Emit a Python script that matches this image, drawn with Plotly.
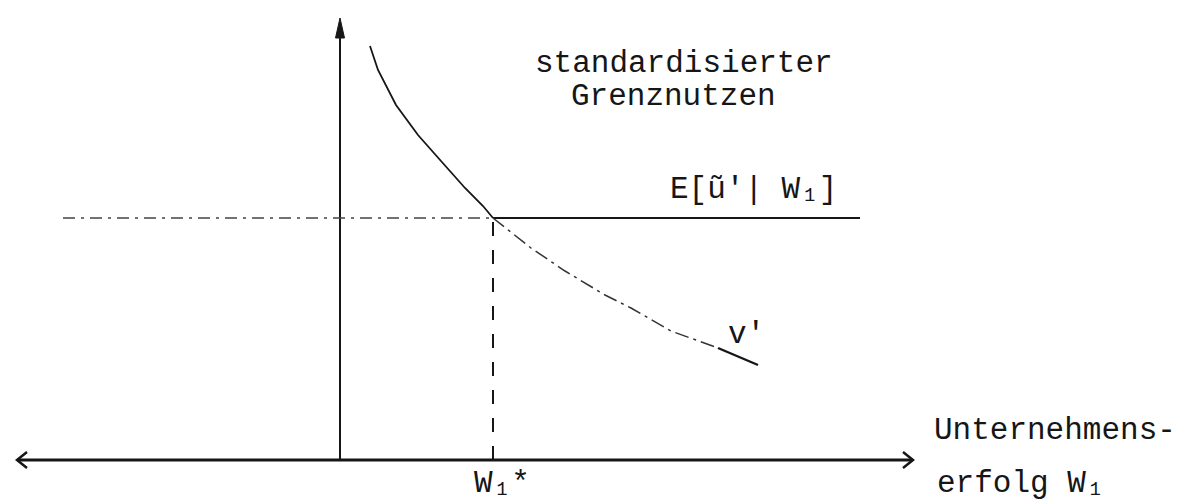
import plotly.graph_objects as go

# abstract diagram units: origin where the two axes cross
curve_x = [0.30, 0.38, 0.56, 0.78, 1.01, 1.25, 1.43, 1.53, 1.91, 2.25, 2.65, 2.91, 3.31, 3.78, 4.18]
curve_y = [4.14, 3.90, 3.55, 3.25, 2.99, 2.72, 2.54, 2.42, 2.12, 1.89, 1.65, 1.52, 1.29, 1.12, 0.95]

expected_level = 2.42
expected_x = [-2.77, 1.53, 5.20]
w_star = 1.53

x_axis_ends = [-3.23, 5.73]
y_axis_top = 4.42

INK = "#161616"
FONT = dict(family="Liberation Mono, Courier New, monospace", size=31, color=INK)

i_star = curve_x.index(w_star)
i_tail = curve_x.index(3.78)

fig = go.Figure()


def add_line(xs, ys, width=2, dash="solid", color=INK):
    fig.add_trace(go.Scatter(x=xs, y=ys, mode="lines", hoverinfo="skip",
                             line=dict(color=color, width=width, dash=dash)))


# axes
add_line(x_axis_ends, [0, 0], width=3)
add_line([0, 0], [0, y_axis_top - 0.1], width=2)

# open chevrons on the horizontal axis
head_dx, head_dy = 0.10, 0.08
left, right = x_axis_ends
add_line([left + head_dx, left, left + head_dx], [head_dy, 0, -head_dy], width=2.5)
add_line([right - head_dx, right, right - head_dx], [head_dy, 0, -head_dy], width=2.5)

# filled head on the vertical axis
fig.add_trace(go.Scatter(
    x=[-0.045, 0, 0.045, -0.045], y=[y_axis_top - 0.2, y_axis_top, y_axis_top - 0.2, y_axis_top - 0.2],
    mode="lines", fill="toself", fillcolor=INK, line=dict(color=INK, width=1), hoverinfo="skip"))

# expected marginal utility level
add_line(expected_x[:2], [expected_level] * 2, width=1.5, dash="12px,6px,3px,6px", color="#444")
add_line(expected_x[1:], [expected_level] * 2, width=2.2)

# optimum
add_line([w_star, w_star], [0, expected_level], width=2, dash="14px,14px")

# v' curve
add_line(curve_x[:i_star + 1], curve_y[:i_star + 1], width=1.8)
add_line(curve_x[i_star:i_tail + 1], curve_y[i_star:i_tail + 1], width=1.5, dash="14px,5px,3px,5px", color="#333")
add_line(curve_x[i_tail:], curve_y[i_tail:], width=2.4)

labels = [
    ("standardisierter", 1.93, 3.97),
    ("Grenznutzen", 2.29, 3.64),
    ("E[ũ'| W₁]", 3.28, 2.71),
    ("v'", 3.86, 1.26),
    ("W₁*", 1.32, -0.23),
    ("Unternehmens-", 5.92, 0.30),
    ("erfolg W₁", 5.95, -0.23),
]
for text, x, y in labels:
    fig.add_annotation(x=x, y=y, text=text, showarrow=False, xanchor="left",
                       yanchor="middle", font=FONT)

fig.update_xaxes(range=[-3.32, 8.49], visible=False)
fig.update_yaxes(range=[-0.48, 4.52], visible=False)
fig.update_layout(
    width=1181,
    height=500,
    margin=dict(l=0, r=0, t=0, b=0, pad=0),
    showlegend=False,
    plot_bgcolor="white",
    paper_bgcolor="white",
)

fig.write_html("out.html")
